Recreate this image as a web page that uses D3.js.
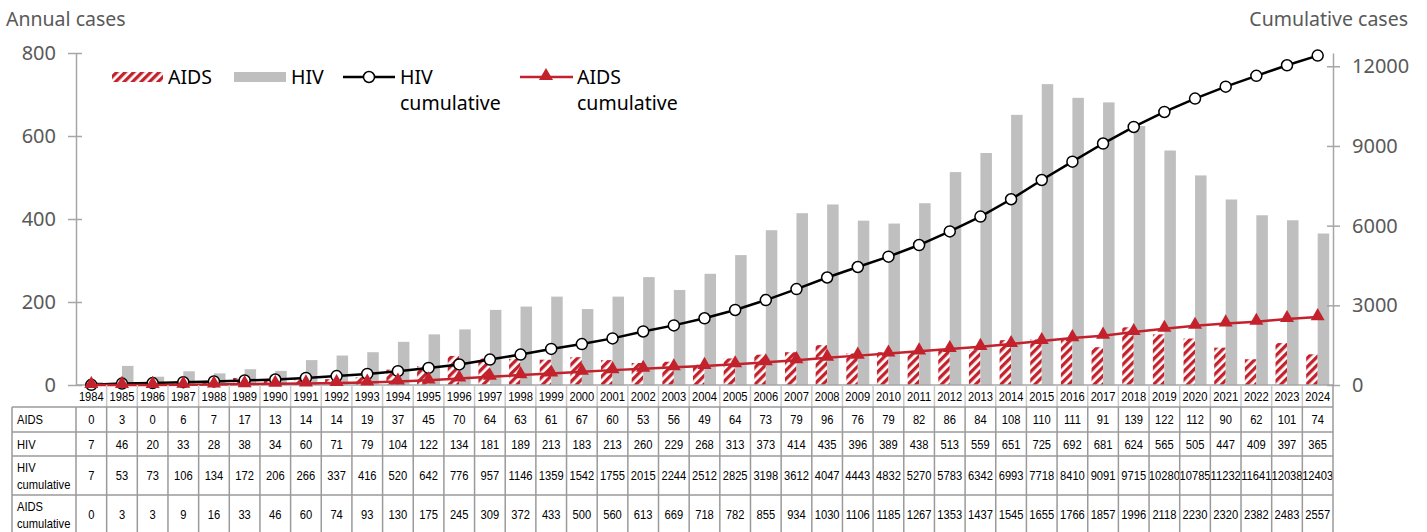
<!DOCTYPE html>
<html>
<head>
<meta charset="utf-8">
<title>HIV / AIDS cases</title>
<script src="https://d3js.org/d3.v7.min.js"></script>
<style>
  body { margin: 0; background: #fff; }
  svg { display: block; }
</style>
</head>
<body>
<script>
var years = d3.range(1984, 2025).map(String);
var aids = [0,3,0,6,7,17,13,14,14,19,37,45,70,64,63,61,67,60,53,56,49,64,73,79,96,76,79,82,86,84,108,110,111,91,139,122,112,90,62,101,74];
var hiv = [7,46,20,33,28,38,34,60,71,79,104,122,134,181,189,213,183,213,260,229,268,313,373,414,435,396,389,438,513,559,651,725,692,681,624,565,505,447,409,397,365];
var hivCum = [7,53,73,106,134,172,206,266,337,416,520,642,776,957,1146,1359,1542,1755,2015,2244,2512,2825,3198,3612,4047,4443,4832,5270,5783,6342,6993,7718,8410,9091,9715,10280,10785,11232,11641,12038,12403];
var aidsCum = [0,3,3,9,16,33,46,60,74,93,130,175,245,309,372,433,500,560,613,669,718,782,855,934,1030,1106,1185,1267,1353,1437,1545,1655,1766,1857,1996,2118,2230,2320,2382,2483,2557];
var leftTicks = [0,200,400,600,800];
var rightTicks = [0,3000,6000,9000,12000];

var W = 1427, H = 532;
var red = "#c3222d", gray = "#bfbfbf", axisCol = "#a6a6a6", textCol = "#595959";
var font = "'Noto Sans', sans-serif";
var tblFont = "'Liberation Sans', Arial, sans-serif";
var squeeze = 0.86; // table text is a condensed face in the original

var svg = d3.select("body").append("svg").attr("width", W).attr("height", H);

// hatch for AIDS bars
var defs = svg.append("defs");
var pat = defs.append("pattern").attr("id", "hatch")
  .attr("patternUnits", "userSpaceOnUse").attr("width", 6).attr("height", 6)
  .attr("patternTransform", "rotate(45)");
pat.append("rect").attr("width", 6).attr("height", 6).attr("fill", "#fff");
pat.append("rect").attr("width", 3.3).attr("height", 6).attr("fill", red);

var x = d3.scaleBand().domain(years).range([76, 1333]);
var bw = x.bandwidth();
var x1 = d3.scaleBand().domain(["AIDS", "HIV"]).range([bw * 0.125, bw * 0.875]);
var y = d3.scaleLinear().domain([0, 800]).range([385, 53]);
var y2 = d3.scaleLinear().domain([0, 12500]).range([385, 53]);

// bars
var g = svg.append("g");
g.selectAll("rect.aids").data(aids).enter().append("rect")
  .attr("x", function(d, i){ return x(years[i]) + x1("AIDS"); })
  .attr("y", function(d){ return y(d); })
  .attr("width", x1.bandwidth())
  .attr("height", function(d){ return y(0) - y(d); })
  .attr("fill", "url(#hatch)");
g.selectAll("rect.hiv").data(hiv).enter().append("rect")
  .attr("x", function(d, i){ return x(years[i]) + x1("HIV"); })
  .attr("y", function(d){ return y(d); })
  .attr("width", x1.bandwidth())
  .attr("height", function(d){ return y(0) - y(d); })
  .attr("fill", gray);

// axes
var yAxisL = d3.axisLeft(y).tickValues(leftTicks).tickSize(0).tickPadding(20);
var gl = svg.append("g").attr("transform", "translate(76,0)").call(yAxisL);
var yAxisR = d3.axisRight(y2).tickValues(rightTicks).tickFormat(d3.format("d")).tickSize(0).tickPadding(19);
var gr = svg.append("g").attr("transform", "translate(1333,0)").call(yAxisR);
[gl, gr].forEach(function(a){
  a.select(".domain").attr("stroke", axisCol).attr("stroke-width", 1.5);
  a.selectAll("text").attr("font-family", font).attr("font-size", 20).attr("fill", textCol);
});
// ticks that cross the axis lines
gl.selectAll(".tick").append("line").attr("x1", -8).attr("x2", 6).attr("stroke", axisCol).attr("stroke-width", 1.5);
gr.selectAll(".tick").append("line").attr("x1", -6).attr("x2", 7).attr("stroke", axisCol).attr("stroke-width", 1.5);
svg.append("line").attr("x1", 76).attr("x2", 1333).attr("y1", 385).attr("y2", 385)
  .attr("stroke", axisCol).attr("stroke-width", 1.5);

// axis titles
svg.append("text").attr("x", 6).attr("y", 26).text("Annual cases")
  .attr("font-family", font).attr("font-size", 19.5).attr("fill", textCol);
svg.append("text").attr("x", 1408).attr("y", 26).attr("text-anchor", "end").text("Cumulative cases")
  .attr("font-family", font).attr("font-size", 19.5).attr("fill", textCol);

// cumulative lines
var cx = function(i){ return x(years[i]) + bw / 2; };
var line = d3.line().x(function(d, i){ return cx(i); }).y(function(d){ return y2(d); });
svg.append("path").datum(hivCum).attr("d", line).attr("fill", "none").attr("stroke", "#000").attr("stroke-width", 2.5);
svg.selectAll("circle.hc").data(hivCum).enter().append("circle")
  .attr("cx", function(d, i){ return cx(i); }).attr("cy", function(d){ return y2(d); })
  .attr("r", 5.5).attr("fill", "#fff").attr("stroke", "#000").attr("stroke-width", 1.5);

svg.append("path").datum(aidsCum).attr("d", line).attr("fill", "none").attr("stroke", red).attr("stroke-width", 2.5);
var tri = d3.symbol().type(d3.symbolTriangle).size(85);
svg.selectAll("path.ac").data(aidsCum).enter().append("path")
  .attr("d", tri)
  .attr("transform", function(d, i){ return "translate(" + cx(i) + "," + (y2(d) - 1) + ")"; })
  .attr("fill", red);

// legend
var lg = svg.append("g").attr("font-family", font).attr("font-size", 19.5).attr("fill", "#000");
lg.append("rect").attr("x", 112).attr("y", 72).attr("width", 51).attr("height", 10).attr("fill", "url(#hatch)");
lg.append("text").attr("x", 168).attr("y", 84).text("AIDS");
lg.append("rect").attr("x", 234).attr("y", 72).attr("width", 52).attr("height", 10).attr("fill", gray);
lg.append("text").attr("x", 291).attr("y", 84).text("HIV");
lg.append("line").attr("x1", 343).attr("x2", 395).attr("y1", 77).attr("y2", 77).attr("stroke", "#000").attr("stroke-width", 2.5);
lg.append("circle").attr("cx", 369).attr("cy", 77).attr("r", 5.5).attr("fill", "#fff").attr("stroke", "#000").attr("stroke-width", 1.5);
lg.append("text").attr("x", 400).attr("y", 84).text("HIV");
lg.append("text").attr("x", 400).attr("y", 110).text("cumulative");
lg.append("line").attr("x1", 520).attr("x2", 573).attr("y1", 77).attr("y2", 77).attr("stroke", red).attr("stroke-width", 2.5);
lg.append("path").attr("d", tri).attr("transform", "translate(546,76)").attr("fill", red);
lg.append("text").attr("x", 577).attr("y", 84).text("AIDS");
lg.append("text").attr("x", 577).attr("y", 110).text("cumulative");

// data table
var gridCol = "#9a9a9a";
var rows = [
  { label: ["AIDS"], vals: aids, top: 407, bot: 432 },
  { label: ["HIV"], vals: hiv, top: 432, bot: 456 },
  { label: ["HIV", "cumulative"], vals: hivCum, top: 456, bot: 495 },
  { label: ["AIDS", "cumulative"], vals: aidsCum, top: 495, bot: 534 }
];
var t = svg.append("g").attr("font-family", tblFont).attr("font-size", 13).attr("fill", "#000");
function place(px, py){ return "translate(" + px + "," + py + ") scale(" + squeeze + ",1)"; }

// year labels row
t.selectAll("text.yr").data(years).enter().append("text")
  .attr("transform", function(d){ return place(x(d) + bw / 2, 400.5); })
  .attr("text-anchor", "middle").text(function(d){ return d; });
t.selectAll("line.yv").data(years.slice(1)).enter().append("line")
  .attr("x1", function(d){ return x(d); }).attr("x2", function(d){ return x(d); })
  .attr("y1", 385).attr("y2", 407).attr("stroke", "#c8c8c8").attr("stroke-width", 1.5);

rows.forEach(function(r){
  var mid = (r.top + r.bot) / 2;
  t.selectAll(null).data(r.vals).enter().append("text")
    .attr("transform", function(d, i){ return place(cx(i), mid + 4.5); })
    .attr("text-anchor", "middle").text(function(d){ return d; });
  if (r.label.length == 1) {
    t.append("text").attr("transform", place(17, mid + 4.5)).text(r.label[0]);
  } else {
    t.append("text").attr("transform", place(17, mid - 4)).text(r.label[0]);
    t.append("text").attr("transform", place(17, mid + 13)).text(r.label[1]);
  }
  t.append("line").attr("x1", 12).attr("x2", 1333).attr("y1", r.top).attr("y2", r.top)
    .attr("stroke", gridCol).attr("stroke-width", 1.5);
});
// vertical grid
t.selectAll("line.v").data(years).enter().append("line")
  .attr("x1", function(d){ return x(d); }).attr("x2", function(d){ return x(d); })
  .attr("y1", 407).attr("y2", H).attr("stroke", gridCol).attr("stroke-width", 1.5);
t.append("line").attr("x1", 1333).attr("x2", 1333).attr("y1", 385).attr("y2", H).attr("stroke", gridCol).attr("stroke-width", 1.5);
t.append("line").attr("x1", 12).attr("x2", 12).attr("y1", 407).attr("y2", H).attr("stroke", gridCol).attr("stroke-width", 1.5);
</script>
</body>
</html>
